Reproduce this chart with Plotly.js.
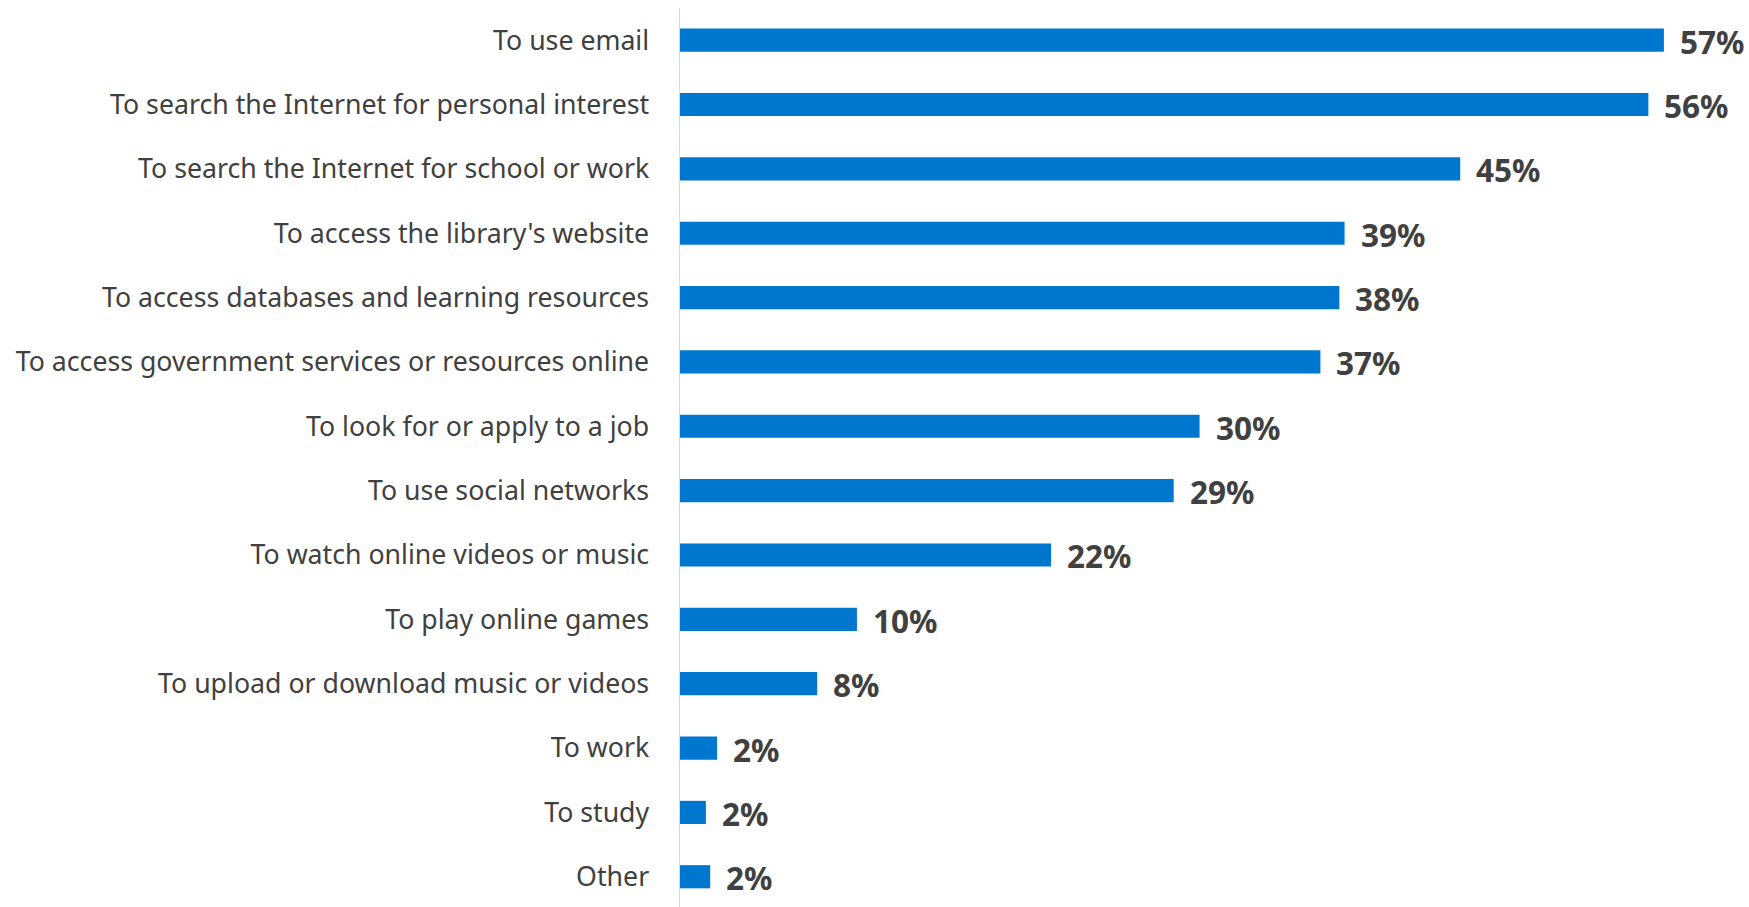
<!DOCTYPE html>
<html>
<head>
<meta charset="utf-8">
<script src="https://cdn.plot.ly/plotly-3.0.1.min.js"></script>
<style>html,body{margin:0;padding:0;background:#fff;}#chart{width:1749px;height:907px;}</style>
</head>
<body>
<div id="chart"></div>
<script>
const categories = [
  "To use email",
  "To search the Internet for personal interest",
  "To search the Internet for school or work",
  "To access the library's website",
  "To access databases and learning resources",
  "To access government services or resources online",
  "To look for or apply to a job",
  "To use social networks",
  "To watch online videos or music",
  "To play online games",
  "To upload or download music or videos",
  "To work",
  "To study",
  "Other"
];
const values = [57.0, 56.1, 45.2, 38.5, 38.2, 37.1, 30.1, 28.6, 21.5, 10.25, 7.95, 2.15, 1.5, 1.75];
const valueLabels = ["57%", "56%", "45%", "39%", "38%", "37%", "30%", "29%", "22%", "10%", "8%", "2%", "2%", "2%"];

const trace = {
  type: 'bar',
  orientation: 'h',
  x: values,
  y: categories,
  marker: {color: '#0077cf'},
  hoverinfo: 'skip'
};

const annotations = categories.map((c, i) => ({
  x: values[i], y: c, xref: 'x', yref: 'y',
  text: valueLabels[i], showarrow: false,
  xanchor: 'left', yanchor: 'middle', xshift: 14, yshift: -1,
  font: {family: 'Noto Sans', size: 31.5, color: '#404040', weight: 'bold'}
}));

const layout = {
  width: 1749, height: 907,
  margin: {l: 680, r: 0, t: 8, b: 0},
  paper_bgcolor: '#fff', plot_bgcolor: '#fff',
  bargap: 0.64,
  showlegend: false,
  font: {family: 'Noto Sans', color: '#404040'},
  xaxis: {range: [0, 61.93], visible: false, fixedrange: true},
  yaxis: {
    type: 'category', range: [13.47, -0.5],
    showline: true, linecolor: '#d9d9d9', linewidth: 1.5,
    showgrid: false, zeroline: false, ticks: '',
    ticklabelstandoff: 24,
    tickfont: {family: 'Noto Sans', size: 26.7, color: '#404040'}
  },
  annotations: annotations
};

Plotly.newPlot('chart', [trace], layout, {staticPlot: true, displayModeBar: false});
</script>
</body>
</html>
